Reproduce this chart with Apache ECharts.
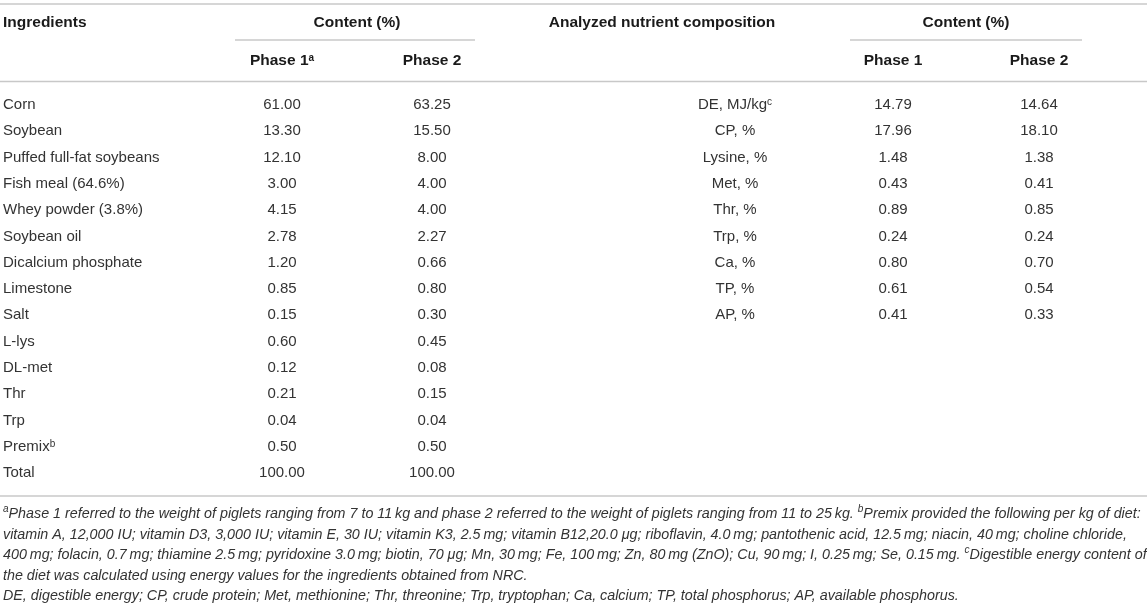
<!DOCTYPE html>
<html>
<head>
<meta charset="utf-8">
<script src="https://cdn.jsdelivr.net/npm/echarts@6/dist/echarts.min.js"></script>
<style>
  html, body { margin: 0; padding: 0; background: #fff; }
  #main { width: 1147px; height: 607px; }
</style>
</head>
<body>
<div id="main"></div>
<script>
// diet table: ingredients (left) and analyzed nutrients (right)
const phaseLabels = ['Phase 1{sup|a}', 'Phase 2'];
const nutPhaseLabels = ['Phase 1', 'Phase 2'];

const ingredients = ['Corn', 'Soybean', 'Puffed full-fat soybeans', 'Fish meal (64.6%)', 'Whey powder (3.8%)',
  'Soybean oil', 'Dicalcium phosphate', 'Limestone', 'Salt', 'L-lys', 'DL-met', 'Thr', 'Trp', 'Premix{sup|b}', 'Total'];
const phase1 = [61.00, 13.30, 12.10, 3.00, 4.15, 2.78, 1.20, 0.85, 0.15, 0.60, 0.12, 0.21, 0.04, 0.50, 100.00];
const phase2 = [63.25, 15.50, 8.00, 4.00, 4.00, 2.27, 0.66, 0.80, 0.30, 0.45, 0.08, 0.15, 0.04, 0.50, 100.00];

const nutrients = ['DE, MJ/kg{sup|c}', 'CP, %', 'Lysine, %', 'Met, %', 'Thr, %', 'Trp, %', 'Ca, %', 'TP, %', 'AP, %'];
const nutPhase1 = [14.79, 17.96, 1.48, 0.43, 0.89, 0.24, 0.80, 0.61, 0.41];
const nutPhase2 = [14.64, 18.10, 1.38, 0.41, 0.85, 0.24, 0.70, 0.54, 0.33];

const footnotes = [
  '{sup|a}Phase 1 referred to the weight of piglets ranging from 7 to 11\u2009kg and phase 2 referred to the weight of piglets ranging from 11 to 25\u2009kg. {sup|b}Premix provided the following per kg of diet:',
  'vitamin A, 12,000 IU; vitamin D3, 3,000 IU; vitamin E, 30 IU; vitamin K3, 2.5\u2009mg; vitamin B12,20.0 \u03bcg; riboflavin, 4.0\u2009mg; pantothenic acid, 12.5\u2009mg; niacin, 40\u2009mg; choline chloride,',
  '400\u2009mg; folacin, 0.7\u2009mg; thiamine 2.5\u2009mg; pyridoxine 3.0\u2009mg; biotin, 70 \u03bcg; Mn, 30\u2009mg; Fe, 100\u2009mg; Zn, 80\u2009mg (ZnO); Cu, 90\u2009mg; I, 0.25\u2009mg; Se, 0.15\u2009mg. {sup|c}Digestible energy content of',
  'the diet was calculated using energy values for the ingredients obtained from NRC.',
  'DE, digestible energy; CP, crude protein; Met, methionine; Thr, threonine; Trp, tryptophan; Ca, calcium; TP, total phosphorus; AP, available phosphorus.'
];

const FONT = '"Liberation Sans", Arial, Helvetica, sans-serif';
const BODY = '#333';
const HEAD = '#1a1a1a';
const RULE = '#c8c8c8';
const ROW = 26.29;
const TOP = 91.85;
const BODY_SIZE = 15;
const HEAD_SIZE = 15.5;

const sup = { fontSize: 10, lineHeight: 9, verticalAlign: 'top', fontFamily: FONT };

function cells(a, b) {
  const out = [];
  a.forEach((v, i) => out.push([0, i, v.toFixed(2)]));
  b.forEach((v, i) => out.push([1, i, v.toFixed(2)]));
  return out;
}

const leftCells = cells(phase1, phase2);
const rightCells = cells(nutPhase1, nutPhase2);

function cellRenderer(list) {
  return function (params, api) {
    const p = api.coord([api.value(0), api.value(1)]);
    return {
      type: 'text', x: p[0], y: p[1],
      style: { text: list[params.dataIndex][2], fill: BODY, font: BODY_SIZE + 'px ' + FONT, align: 'center', verticalAlign: 'middle' }
    };
  };
}

function xAxisFor(idx, labels) {
  return {
    type: 'category', gridIndex: idx, position: 'top', data: labels,
    name: 'Content (%)', nameLocation: 'middle', nameGap: TOP - 23,
    nameTextStyle: { fontFamily: FONT, fontSize: HEAD_SIZE, fontWeight: 'bold', color: HEAD, verticalAlign: 'middle' },
    axisLine: { show: false }, axisTick: { show: false }, splitLine: { show: false },
    axisLabel: { margin: TOP - 61, verticalAlign: 'middle', fontFamily: FONT, fontSize: HEAD_SIZE, fontWeight: 'bold', color: HEAD, rich: { sup: sup } }
  };
}

const chart = echarts.init(document.getElementById('main'), null, { renderer: 'canvas' });
chart.setOption({
  animation: false,
  backgroundColor: '#fff',
  grid: [
    { left: 207, width: 300, top: TOP, height: ROW * ingredients.length },
    { left: 820, width: 292, top: TOP, height: ROW * nutrients.length }
  ],
  xAxis: [xAxisFor(0, phaseLabels), xAxisFor(1, nutPhaseLabels)],
  yAxis: [
    {
      type: 'category', gridIndex: 0, data: ingredients, inverse: true,
      axisLine: { show: false }, axisTick: { show: false }, splitLine: { show: false },
      axisLabel: { align: 'left', margin: 204, fontFamily: FONT, fontSize: BODY_SIZE, color: BODY, rich: { sup: sup } }
    },
    {
      type: 'category', gridIndex: 1, data: nutrients, inverse: true,
      axisLine: { show: false }, axisTick: { show: false }, splitLine: { show: false },
      axisLabel: { align: 'center', margin: 820 - 735, fontFamily: FONT, fontSize: BODY_SIZE, color: BODY, rich: { sup: sup } }
    }
  ],
  series: [
    { type: 'custom', xAxisIndex: 0, yAxisIndex: 0, data: leftCells.map(c => [c[0], c[1]]), renderItem: cellRenderer(leftCells), silent: true },
    { type: 'custom', xAxisIndex: 1, yAxisIndex: 1, data: rightCells.map(c => [c[0], c[1]]), renderItem: cellRenderer(rightCells), silent: true }
  ],
  graphic: [
    { type: 'line', shape: { x1: 0, y1: 4, x2: 1147, y2: 4 }, style: { stroke: RULE, lineWidth: 1.6 }, silent: true },
    { type: 'line', shape: { x1: 235, y1: 40, x2: 475, y2: 40 }, style: { stroke: RULE, lineWidth: 1.6 }, silent: true },
    { type: 'line', shape: { x1: 850, y1: 40, x2: 1082, y2: 40 }, style: { stroke: RULE, lineWidth: 1.6 }, silent: true },
    { type: 'line', shape: { x1: 0, y1: 81.5, x2: 1147, y2: 81.5 }, style: { stroke: RULE, lineWidth: 1.6 }, silent: true },
    { type: 'line', shape: { x1: 0, y1: 496, x2: 1147, y2: 496 }, style: { stroke: RULE, lineWidth: 1.6 }, silent: true },
    { type: 'text', x: 3, y: 23, style: { text: 'Ingredients', font: 'bold ' + HEAD_SIZE + 'px ' + FONT, fill: HEAD, align: 'left', verticalAlign: 'middle' } },
    { type: 'text', x: 662, y: 23, style: { text: 'Analyzed nutrient composition', font: 'bold ' + HEAD_SIZE + 'px ' + FONT, fill: HEAD, align: 'center', verticalAlign: 'middle' } },
    {
      type: 'text', x: 3, y: 504,
      style: {
        text: footnotes.join('\n'), fill: BODY, align: 'left', verticalAlign: 'top',
        font: 'italic 14.3px ' + FONT, lineHeight: 20.5,
        rich: { sup: { fontSize: 10, lineHeight: 12, verticalAlign: 'top', fontStyle: 'italic', fontFamily: FONT, fill: BODY } }
      }
    }
  ]
});
</script>
</body>
</html>
